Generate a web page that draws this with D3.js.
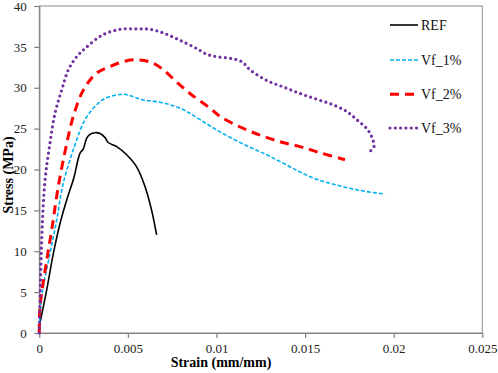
<!DOCTYPE html>
<html><head><meta charset="utf-8">
<script src="https://cdn.jsdelivr.net/npm/d3@7"></script>
<style>body{margin:0;background:#fff}svg{display:block}text{font-family:"Liberation Serif",serif}</style>
</head><body>
<script>
const xTicks = [0, 0.005, 0.01, 0.015, 0.02, 0.025];
const yTicks = [0, 5, 10, 15, 20, 25, 30, 35, 40];
const seriesNames = ["REF", "Vf_1%", "Vf_2%", "Vf_3%"];

const refStrain = [0, 0.00042, 0.00079, 0.00117, 0.00155, 0.00195, 0.0023, 0.00248, 0.00267, 0.00286, 0.00314, 0.00343, 0.00371, 0.00389, 0.00437, 0.00493, 0.0055, 0.00597, 0.00634, 0.00662];
const refStress = [0.8, 5.3, 9.7, 13.4, 16.3, 19.0, 22.0, 22.5, 23.8, 24.3, 24.5, 24.4, 23.9, 23.3, 22.8, 21.8, 20.3, 17.9, 15.0, 12.0];

const vf1Strain = [0, 0.000135, 0.0006, 0.00098, 0.00135, 0.00201, 0.00258, 0.00314, 0.00371, 0.00474, 0.0053, 0.00587, 0.00662, 0.00756, 0.00832, 0.00907, 0.0102, 0.0117, 0.01283, 0.01396, 0.01471, 0.01565, 0.01659, 0.01753, 0.01848, 0.01951];
const vf1Stress = [0.5, 4.5, 9.7, 13.8, 18.3, 23.0, 26.1, 27.7, 28.7, 29.2, 28.9, 28.5, 28.3, 27.8, 27.1, 26.1, 24.6, 22.9, 21.8, 20.55, 19.7, 18.8, 18.2, 17.7, 17.3, 17.0];

const vf2Strain = [0, 0.00004, 0.00042, 0.0007, 0.00107, 0.00155, 0.00192, 0.00248, 0.00324, 0.004, 0.00493, 0.00568, 0.00643, 0.007, 0.00775, 0.0085, 0.00963, 0.0102, 0.01133, 0.01246, 0.01358, 0.01471, 0.01584, 0.01725];
const vf2Stress = [0, 3.2, 8.9, 12.6, 17.9, 23.2, 26.5, 29.7, 31.8, 32.6, 33.3, 33.4, 33.0, 32.2, 30.7, 29.3, 27.5, 26.5, 25.2, 24.2, 23.4, 22.8, 22.05, 21.2];

const vf3Strain = [0, 0.000135, 0.00032, 0.0006, 0.00089, 0.00126, 0.00164, 0.00211, 0.00258, 0.00352, 0.00455, 0.0055, 0.00625, 0.007, 0.00794, 0.00888, 0.00945, 0.01001, 0.01076, 0.01142, 0.01189, 0.01283, 0.01377, 0.01471, 0.01565, 0.01659, 0.01735, 0.01791, 0.01848, 0.01876, 0.01889, 0.0187];
const vf3Stress = [0, 11.4, 18.6, 23.2, 26.9, 29.7, 32.2, 33.8, 34.8, 36.4, 37.15, 37.2, 37.15, 36.7, 35.8, 34.8, 34.1, 33.8, 33.6, 33.2, 32.2, 30.9, 30.1, 29.3, 28.6, 27.9, 27.1, 26.1, 25.0, 24.0, 22.8, 22.3];

const W = 498, H = 373;
const m = {left: 39.3, right: 482.3, top: 6, bottom: 333};

const svg = d3.select("body").append("svg").attr("width", W).attr("height", H);
const x = d3.scaleLinear().domain([0, 0.025]).range([m.left, m.right]);
const y = d3.scaleLinear().domain([0, 40]).range([m.bottom, m.top]);

svg.append("rect").attr("x", m.left).attr("y", m.top).attr("width", m.right - m.left).attr("height", m.bottom - m.top)
  .attr("fill", "none").attr("stroke", "#8c8c8c").attr("stroke-width", 1);

const font = "Liberation Serif";
const xAxis = svg.append("g").attr("transform", `translate(0,${m.bottom})`)
  .call(d3.axisBottom(x).tickValues(xTicks).tickFormat(d => d === 0 ? "0" : String(+d.toFixed(3))).tickSize(5).tickSizeOuter(0));
const yAxis = svg.append("g").attr("transform", `translate(${m.left},0)`)
  .call(d3.axisLeft(y).tickValues(yTicks).tickFormat(d => String(d)).tickSize(5).tickSizeOuter(0));
[xAxis, yAxis].forEach(g => {
  g.attr("font-family", font);
  g.selectAll("path,line").attr("stroke", "#7f7f7f").attr("stroke-width", 1.2);
  g.selectAll("text").attr("font-family", font).attr("font-size", 13).attr("fill", "#222");
});
xAxis.selectAll("text").attr("dy", "0.95em");
yAxis.selectAll("text").attr("dx", "-0.35em");

svg.append("text").attr("x", 221).attr("y", 367).attr("text-anchor", "middle")
  .attr("font-family", font).attr("font-weight", "bold").attr("font-size", 14).text("Strain (mm/mm)");
svg.append("text").attr("transform", "translate(13,175) rotate(-90)").attr("text-anchor", "middle")
  .attr("font-family", font).attr("font-weight", "bold").attr("font-size", 14).text("Stress (MPa)");

const styles = [
  {color: "#000000", width: 1.6, dash: null, cap: "butt"},
  {color: "#00B0F0", width: 1.6, dash: "4 2", cap: "butt"},
  {color: "#FF0000", width: 3, dash: "9 6", cap: "butt"},
  {color: "#7030A0", width: 3.2, dash: "0 5.3", cap: "round"}
];
const data = [
  d3.zip(refStrain, refStress),
  d3.zip(vf1Strain, vf1Stress),
  d3.zip(vf2Strain, vf2Stress),
  d3.zip(vf3Strain, vf3Stress)
];
const line = d3.line().x(d => x(d[0])).y(d => y(d[1])).curve(d3.curveCatmullRom.alpha(0.5));
data.forEach((d, i) => {
  const s = styles[i];
  const p = svg.append("path").datum(d).attr("d", line).attr("fill", "none")
    .attr("stroke", s.color).attr("stroke-width", s.width).attr("stroke-linecap", s.cap).attr("stroke-linejoin", "round");
  if (s.dash) p.attr("stroke-dasharray", s.dash);
});

const legY = [25, 60, 94.3, 128];
seriesNames.forEach((n, i) => {
  const s = styles[i];
  const l = svg.append("line").attr("x1", 390).attr("x2", 418).attr("y1", legY[i]).attr("y2", legY[i])
    .attr("stroke", s.color).attr("stroke-width", s.width).attr("stroke-linecap", s.cap);
  if (s.dash) l.attr("stroke-dasharray", s.dash);
  svg.append("text").attr("x", 421).attr("y", legY[i]).attr("dy", "0.35em")
    .attr("font-family", font).attr("font-size", 14).attr("fill", "#111").text(n);
});
</script>
</body></html>
